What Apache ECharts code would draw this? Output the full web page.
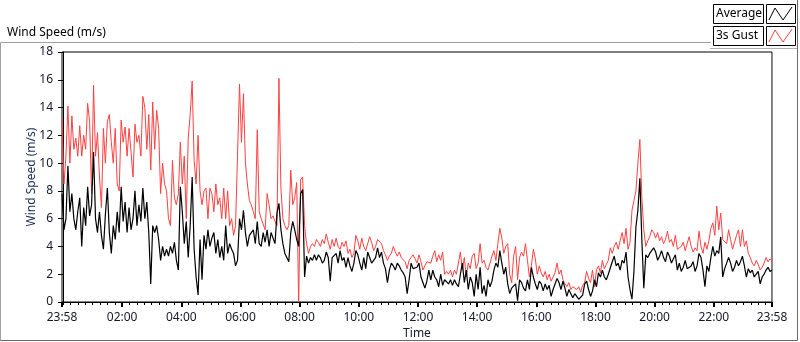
<!DOCTYPE html>
<html>
<head>
<meta charset="utf-8">
<script src="https://cdn.jsdelivr.net/npm/echarts@6/dist/echarts.min.js"></script>
<style>
html,body{margin:0;padding:0;background:#fff;}
#chart{width:800px;height:342px;}
</style>
</head>
<body>
<div id="chart"></div>
<script>
// time axis: minutes from midnight, first sample at 23:58 of the previous day, one sample every 4 min
var startMin = -2;
var stepMin = 4;
var tickLabelMins = [-2, 120, 240, 360, 480, 600, 720, 840, 960, 1080, 1200, 1320, 1438];
var yTicks = [0, 2, 4, 6, 8, 10, 12, 14, 16, 18];

// 3s gust (red)
var gust = [
  13.2,8.5,10.5,14.1,10.0,13.4,11.0,11.8,10.5,12.7,10.5,12.0,11.0,14.3,13.0,7.8,15.6,10.5,12.2,9.0,6.8,12.5,10.0,13.0,13.5,11.5,10.0,12.5,8.5,8.0,13.1,11.5,12.6,10.5,12.5,10.8,9.0,12.8,11.5,12.0,10.5,14.8,14.0,11.0,13.5,
  9.5,14.4,11.0,13.8,12.5,7.8,10.0,8.5,8.0,6.0,5.5,10.2,7.5,7.0,7.8,11.5,8.5,10.5,6.0,11.8,13.5,15.9,10.2,8.5,12.0,8.0,7.0,8.0,8.2,6.0,8.2,7.8,6.5,8.5,7.0,7.5,6.0,8.2,6.0,8.0,5.5,6.0,4.8,5.5,
  5.5,15.7,11.5,15.0,10.0,8.5,7.3,7.0,6.5,6.0,12.4,6.5,6.0,6.0,5.2,7.8,7.0,6.0,6.2,5.8,5.5,16.1,8.2,6.0,5.5,5.2,5.5,9.5,7.0,7.5,8.6,0,8.8,9.0,5.5,4.2,3.5,4.0,4.2,4.0,4.5,4.3,4.0,4.5,4.2,
  4.9,4.3,3.8,4.5,4.0,4.6,4.0,3.8,4.3,4.0,4.4,3.5,3.8,3.2,3.5,4.8,4.4,3.8,4.6,4.0,3.7,4.2,4.7,4.3,3.7,4.0,4.5,4.6,4.2,3.7,3.4,3.0,3.3,3.5,4.0,3.6,3.3,3.6,3.2,3.3,2.9,2.4,3.0,3.2,3.4,
  3.4,2.8,3.4,2.9,2.3,2.6,2.9,3.0,2.8,3.3,3.7,2.9,3.4,3.0,3.6,2.0,2.2,2.0,2.3,1.8,2.3,2.0,2.8,3.6,2.3,3.2,1.8,2.8,2.4,3.3,3.5,2.4,2.8,4.2,2.8,3.0,2.5,2.3,2.8,3.3,3.7,3.0,4.2,5.3,4.6,
  3.5,4.0,4.2,2.0,1.4,3.3,4.0,1.6,3.2,3.6,3.3,4.2,3.0,1.8,2.6,3.8,3.1,2.0,2.6,2.1,1.8,2.2,1.6,2.0,1.5,1.8,2.1,2.8,2.0,2.3,1.6,1.3,1.1,1.4,0.9,1.1,1.0,0.9,1.1,0.7,1.2,1.4,2.2,1.7,
  1.4,2.3,1.1,2.3,2.6,2.1,3.0,2.4,2.7,3.0,3.9,3.5,4.0,4.3,3.8,4.4,5.0,4.2,5.3,3.8,4.3,6.6,7.3,8.0,10.0,11.7,7.5,5.2,4.0,4.4,4.7,5.2,5.0,4.6,5.0,4.4,4.7,4.2,4.5,5.1,4.3,4.5,4.0,4.8,3.8,
  3.8,4.0,4.3,3.7,4.2,4.7,4.0,3.6,3.9,3.7,5.1,4.0,3.5,4.3,3.8,4.4,5.3,5.7,4.8,6.9,5.2,6.4,4.5,4.6,4.2,5.2,4.5,3.8,4.3,4.8,5.2,4.0,5.2,4.0,4.4,3.5,3.2,2.8,2.6,3.0,2.7,2.3,2.5,2.8,3.2,2.9,3.1,3.0
];

// average (black)
var average = [
  7.8,5.2,6.0,9.8,6.5,7.8,6.0,5.2,6.5,7.5,4.0,6.8,5.5,8.3,6.2,7.0,10.8,6.0,5.0,6.5,4.8,3.8,6.3,8.2,5.0,3.5,5.5,4.5,6.5,5.0,8.3,5.8,7.2,5.0,6.8,5.2,6.0,8.0,5.5,7.0,5.8,8.2,6.0,7.2,5.0,
  1.3,5.5,5.0,5.5,4.5,3.0,4.0,3.3,3.8,3.3,4.0,3.5,4.3,3.0,2.3,8.3,6.5,4.2,5.8,3.2,5.5,9.0,3.8,1.8,0.5,4.5,1.6,4.8,3.8,5.2,4.0,4.6,5.0,3.5,4.5,3.2,4.0,3.0,5.5,3.5,4.2,3.8,3.5,2.6,
  3.0,6.0,5.2,6.6,5.0,4.0,4.8,5.0,5.2,4.2,5.8,4.2,4.0,5.0,4.3,5.2,4.0,5.0,4.6,4.2,6.4,7.1,5.2,4.2,3.5,3.2,2.9,5.0,5.8,5.2,4.5,4.0,7.8,8.1,1.8,3.3,2.8,3.2,3.0,3.4,3.0,3.4,3.2,2.8,3.0,
  3.6,3.2,1.5,3.2,3.3,3.5,2.8,3.7,3.0,3.2,2.5,3.2,2.6,2.2,2.8,3.7,3.4,2.8,2.3,3.2,2.4,3.6,3.2,2.8,3.0,3.2,3.9,3.2,3.6,2.8,2.4,1.4,2.3,2.8,2.6,2.3,2.8,2.6,2.3,2.1,1.8,0.6,1.6,2.8,2.4,
  2.3,2.5,2.8,1.8,1.4,1.0,1.5,2.3,1.6,2.3,1.8,1.6,1.1,2.0,1.2,1.6,1.5,1.3,1.6,1.2,1.6,1.3,1.1,2.0,2.8,1.4,2.3,0.9,1.8,1.4,0.4,2.0,0.9,2.5,0.6,1.2,0.4,1.6,1.1,1.5,2.3,2.8,2.5,3.7,2.8,
  2.0,2.5,1.3,0.6,1.0,1.1,1.3,0.1,1.6,1.4,1.0,0.8,1.6,0.9,2.5,1.8,1.3,0.9,1.5,1.3,0.8,1.3,0.9,1.2,0.4,0.9,1.3,1.7,1.4,0.9,1.5,1.0,0.4,0.9,0.6,0.3,0.6,0.4,0.2,0.3,0.5,1.3,1.5,0.9,
  0.4,0.8,1.6,1.1,2.1,1.8,2.3,1.8,1.6,2.0,1.9,2.9,3.3,2.6,2.8,2.3,3.0,2.8,3.6,1.8,0.9,0.2,2.2,5.4,6.6,8.9,4.5,1.0,3.4,3.2,3.5,3.6,3.9,3.6,3.0,3.3,3.7,3.2,2.9,3.6,3.3,2.8,2.9,3.4,2.3,
  2.8,2.2,2.5,3.0,2.4,2.3,2.6,2.9,2.2,2.6,3.5,3.2,2.3,1.1,2.6,2.2,3.2,4.0,3.3,3.7,3.5,4.7,1.8,2.4,2.8,3.2,2.8,2.2,2.5,3.0,2.6,2.9,3.3,2.6,1.8,2.4,2.1,2.3,1.8,2.0,2.2,1.3,1.8,2.0,2.3,2.5,2.2,2.3
];

function pairs(vals){
  var out = [];
  for (var i = 0; i < vals.length; i++) out.push([startMin + i * stepMin, vals[i]]);
  return out;
}
function hhmm(v){
  var m = ((Math.round(v) % 1440) + 1440) % 1440;
  var h = Math.floor(m / 60), mm = m % 60;
  return (h < 10 ? '0' : '') + h + ':' + (mm < 10 ? '0' : '') + mm;
}
// small ticks every 15 min
var minorTicks = [];
for (var m = 0; m < 1440; m += 15) { if (tickLabelMins.indexOf(m) < 0) minorTicks.push(m); }

var FONT = 'Noto Sans';
var txt = '#16182c';

var chart = echarts.init(document.getElementById('chart'), null, {renderer: 'canvas'});
var option = {
  animation: false,
  backgroundColor: '#fff',
  title: {
    text: 'Wind Speed (m/s)', left: 2, top: 22,
    textStyle: {fontFamily: FONT, fontSize: 12, fontWeight: 'normal', color: '#000'}
  },
  grid: {left: 62, top: 52, right: 28, bottom: 40, outerBoundsMode: 'none', show: true, borderColor: '#000', borderWidth: 1, backgroundColor: '#fff'},
  xAxis: [{
    type: 'value', min: -2, max: 1438,
    name: 'Time', nameLocation: 'middle', nameGap: 26, nameMoveOverlap: false,
    nameTextStyle: {fontFamily: FONT, fontSize: 12, color: txt},
    axisLine: {show: true, lineStyle: {color: '#000', width: 1}},
    axisTick: {show: true, length: 5, customValues: tickLabelMins, lineStyle: {color: '#000', width: 2}},
    axisLabel: {customValues: tickLabelMins, margin: 10, formatter: hhmm, fontFamily: FONT, fontSize: 12, color: txt},
    splitLine: {show: false}
  }, {
    type: 'value', min: -2, max: 1438, position: 'bottom',
    axisLine: {show: false},
    axisTick: {show: true, length: 3, customValues: minorTicks, lineStyle: {color: '#000', width: 1}},
    axisLabel: {show: false},
    splitLine: {show: false}
  }],
  yAxis: {
    type: 'value', min: 0, max: 18, interval: 2,
    name: 'Wind Speed (m/s)', nameLocation: 'middle', nameGap: 24, nameMoveOverlap: false,
    nameTextStyle: {fontFamily: FONT, fontSize: 12, color: '#22335a'},
    axisLine: {show: true, lineStyle: {color: '#000'}},
    axisTick: {show: true, length: 5, lineStyle: {color: '#000'}},
    axisLabel: {margin: 9, fontFamily: FONT, fontSize: 12, color: txt},
    splitLine: {show: false}
  },
  series: [{
    name: '3s Gust', type: 'line', data: pairs(gust), showSymbol: false,
    lineStyle: {color: '#ff4040', width: 1}, z: 2
  }, {
    name: 'Average', type: 'line', data: pairs(average), showSymbol: false,
    lineStyle: {color: '#000', width: 1.2}, z: 3
  }],
  graphic: [
    // outer frame
    {type: 'polyline', shape: {points: [[0.5, 341], [0.5, 42.5], [711, 42.5]]}, style: {stroke: '#a0a0a0', fill: null, lineWidth: 1}, silent: true},
    {type: 'polyline', shape: {points: [[0.5, 340.5], [797.5, 340.5], [797.5, 0]]}, style: {stroke: '#6a6a6a', fill: null, lineWidth: 1}, silent: true},
    {type: 'line', shape: {x1: 710, y1: 48.5, x2: 797, y2: 48.5}, style: {stroke: '#b0b0b0', lineWidth: 1}, silent: true},
    // gray right edge of the plot
    {type: 'line', shape: {x1: 772.5, y1: 52, x2: 772.5, y2: 302}, style: {stroke: '#8a8a8a', lineWidth: 1}, z: 100, silent: true},
    // legend
    {type: 'rect', shape: {x: 713.5, y: 4.5, width: 50, height: 19}, style: {stroke: '#000', fill: '#fff', lineWidth: 1}},
    {type: 'text', x: 716, y: 14, style: {text: 'Average', fontFamily: FONT, fontSize: 12, fill: '#000', verticalAlign: 'middle'}},
    {type: 'rect', shape: {x: 766.5, y: 4.5, width: 29, height: 19}, style: {stroke: '#000', fill: '#fff', lineWidth: 1}},
    {type: 'polyline', shape: {points: [[769, 20], [775, 8], [783, 20], [792, 7]]}, style: {stroke: '#000', fill: null, lineWidth: 1}},
    {type: 'rect', shape: {x: 713.5, y: 26.5, width: 50, height: 19}, style: {stroke: '#000', fill: '#fff', lineWidth: 1}},
    {type: 'text', x: 716, y: 36, style: {text: '3s Gust', fontFamily: FONT, fontSize: 12, fill: '#000', verticalAlign: 'middle'}},
    {type: 'rect', shape: {x: 766.5, y: 26.5, width: 29, height: 19}, style: {stroke: '#000', fill: '#fff', lineWidth: 1}},
    {type: 'polyline', shape: {points: [[769, 42], [775, 30], [783, 42], [792, 29]]}, style: {stroke: '#ff4040', fill: null, lineWidth: 1}}
  ]
};
chart.setOption(option);
</script>
</body>
</html>
